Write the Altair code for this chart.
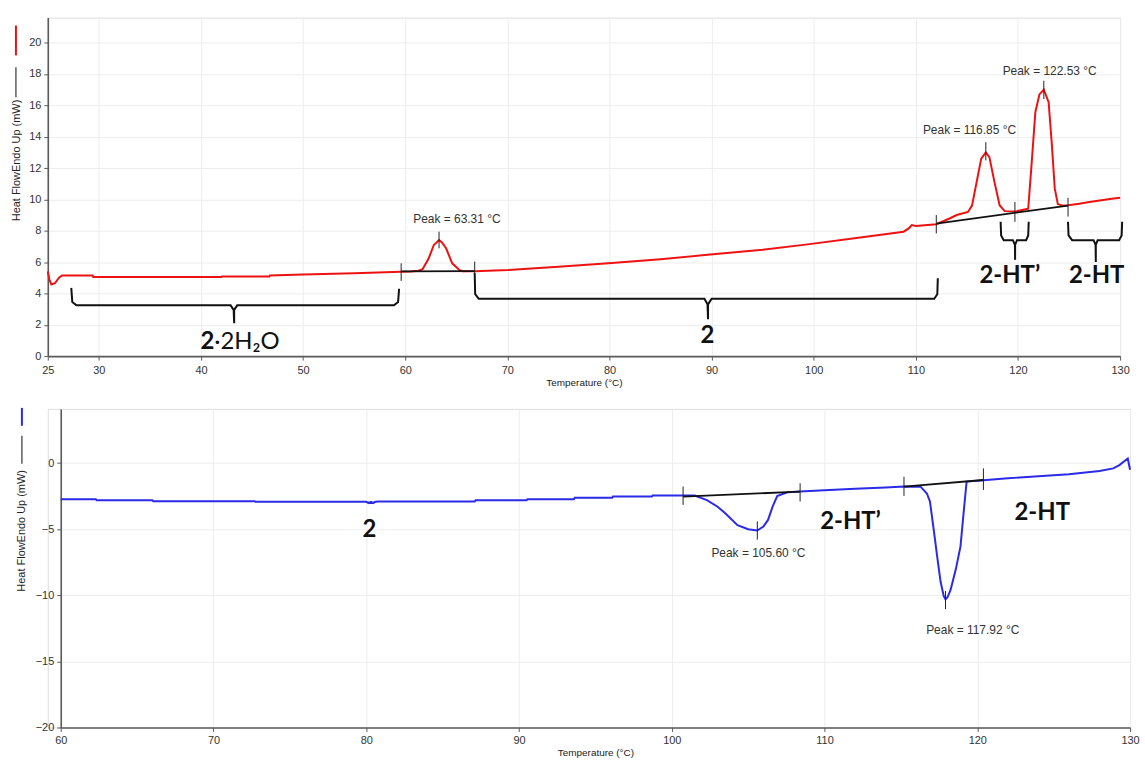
import altair as alt
import pandas as pd

# ---------------- TOP PANEL (heating, red) ----------------
top_T = [25.0, 25.15, 25.35, 25.7, 26.1, 26.4, 29.4, 29.45, 42.0, 42.05, 46.7, 46.75, 50.0, 55.0,
         59.6, 60.5, 61.3, 61.7, 62.3, 62.8, 63.31, 63.6, 64.0, 64.6, 65.3, 65.6, 66.8,
         70.1, 75.0, 79.9, 85.0, 89.6, 95.0, 99.4, 104.0, 108.8, 109.3, 109.6, 110.0, 112.0,
         113.3, 114.0, 115.1, 115.5, 115.95, 116.4, 116.85, 117.2, 117.7, 118.2, 118.7, 119.7,
         121.0, 121.3, 121.7, 122.1, 122.53, 123.0, 123.3, 123.6, 123.9, 124.4, 124.9,
         126.0, 127.0, 128.0, 129.0, 130.0]
top_Y = [5.40, 4.90, 4.57, 4.65, 5.00, 5.14, 5.14, 5.04, 5.04, 5.08, 5.08, 5.15, 5.20, 5.28,
         5.38, 5.40, 5.45, 5.55, 6.24, 7.09, 7.40, 7.25, 6.88, 5.92, 5.50, 5.42, 5.42,
         5.50, 5.70, 5.93, 6.18, 6.46, 6.78, 7.13, 7.52, 7.94, 8.15, 8.36, 8.30, 8.42,
         8.78, 9.00, 9.20, 9.60, 11.10, 12.60, 13.00, 12.70, 11.10, 9.63, 9.25, 9.22,
         9.40, 11.96, 15.56, 16.70, 17.00, 16.20, 13.65, 10.70, 9.70, 9.60, 9.62,
         9.72, 9.83, 9.93, 10.02, 10.10]

top_base_T = [59.6, 66.8, 112.0, 124.9]
top_base_Y = [5.40, 5.42, 8.46, 9.60]
top_base_id = ["a", "a", "b", "b"]

top_tick_T = [59.6, 63.31, 66.8, 112.0, 116.85, 119.7, 122.53, 124.9]
top_tick_lo = [4.80, 6.88, 5.29, 7.83, 12.49, 8.57, 16.40, 8.90]
top_tick_hi = [5.92, 7.94, 6.03, 9.00, 13.65, 9.84, 17.57, 10.10]

top_peak_T = [65.06, 115.25, 123.1]
top_peak_Y = [8.74, 14.4, 18.2]
top_peak_txt = ["Peak = 63.31 °C", "Peak = 116.85 °C", "Peak = 122.53 °C"]

# curly brackets (phase ranges)
br_T = [27.3, 27.4, 27.8, 42.9, 43.2, 43.25, 43.25, 43.55, 58.9, 59.3, 59.4,
        66.8, 66.85, 67.2, 89.3, 89.6, 89.65, 89.65, 90.0, 111.8, 112.1, 112.15,
        118.3, 118.35, 118.6, 119.5, 119.7, 119.72, 119.72, 119.9, 120.8, 121.0, 121.05,
        124.9, 124.95, 125.3, 127.4, 127.6, 127.62, 127.62, 127.8, 129.9, 130.15, 130.2]
br_Y = [4.35, 3.45, 3.24, 3.24, 2.95, 2.10, 2.95, 3.24, 3.24, 3.45, 4.30,
        5.30, 3.95, 3.66, 3.66, 3.30, 2.35, 3.30, 3.66, 3.66, 3.95, 4.97,
        8.57, 7.70, 7.40, 7.40, 7.10, 6.14, 7.10, 7.40, 7.40, 7.70, 8.57,
        8.57, 7.70, 7.40, 7.40, 7.10, 6.00, 7.10, 7.40, 7.40, 7.70, 8.57]
br_id = ["A"] * 11 + ["B"] * 11 + ["C"] * 11 + ["D"] * 11

top_lab_T = [89.6, 119.2, 127.7]
top_lab_Y = [1.27, 5.14, 5.14]
top_lab_txt = ["2", "2-HT’", "2-HT"]

# ---------------- BOTTOM PANEL (cooling, blue) ----------------
bot_T = [60.0, 62.3, 62.35, 66.0, 66.05, 72.7, 72.75, 80.0, 80.15, 80.3, 80.45, 80.6, 80.8,
         87.1, 87.15, 90.5, 90.55, 93.6, 93.65, 96.1, 96.15, 98.7, 98.75, 100.74,
         101.5, 102.3, 103.0, 103.5, 104.3, 105.0, 105.6, 106.0, 106.3, 106.6, 106.9, 107.6, 108.4,
         110.0, 112.0, 114.0, 115.2, 116.3, 116.7, 116.9, 117.2, 117.4, 117.6, 117.8, 117.92,
         118.05, 118.25, 118.6, 118.9, 119.1, 119.3, 120.4, 122.0, 124.0, 126.0, 128.0, 128.9, 129.3,
         129.85, 130.0]
bot_Y = [-2.73, -2.73, -2.81, -2.81, -2.88, -2.88, -2.93, -2.93, -3.02, -2.93, -3.02, -2.93, -2.90,
         -2.90, -2.81, -2.81, -2.73, -2.73, -2.63, -2.63, -2.53, -2.53, -2.45, -2.45,
         -2.45, -2.80, -3.30, -3.80, -4.70, -5.00, -5.10, -4.80, -4.30, -3.30, -2.50, -2.20, -2.15,
         -2.05, -1.95, -1.85, -1.78, -1.80, -2.30, -2.90, -5.50, -7.30, -9.00, -10.05, -10.30,
         -10.15, -9.60, -8.00, -6.30, -3.80, -1.40, -1.30, -1.15, -1.00, -0.85, -0.60, -0.40, -0.15,
         0.35, -0.50]

bot_base_T = [100.74, 108.4, 115.2, 120.4]
bot_base_Y = [-2.53, -2.16, -1.78, -1.28]
bot_base_id = ["a", "a", "b", "b"]

bot_tick_T = [100.74, 105.6, 108.4, 115.2, 117.92, 120.4]
bot_tick_lo = [-3.16, -5.79, -2.91, -2.48, -11.05, -2.03]
bot_tick_hi = [-1.78, -4.41, -1.53, -1.03, -9.67, -0.40]

bot_peak_T = [105.67, 119.7]
bot_peak_Y = [-6.79, -12.63]
bot_peak_txt = ["Peak = 105.60 °C", "Peak = 117.92 °C"]

bot_lab_T = [80.2, 111.7, 124.25]
bot_lab_Y = [-5.04, -4.49, -3.78]
bot_lab_txt = ["2", "2-HT’", "2-HT"]

top_x_ticks = [25, 30, 40, 50, 60, 70, 80, 90, 100, 110, 120, 130]
top_y_ticks = [0, 2, 4, 6, 8, 10, 12, 14, 16, 18, 20]
bot_x_ticks = [60, 70, 80, 90, 100, 110, 120, 130]
bot_y_ticks = [-20, -15, -10, -5, 0]

# ---------------- styling helpers ----------------
FONT = "Liberation Sans"
BOLD = "Lato"
AX = dict(grid=True, gridColor="#ededed", gridWidth=1, domainColor="#5a5a5a", domainWidth=1.6,
          tickColor="#5a5a5a", tickSize=4, labelFont=FONT, labelFontSize=11, labelColor="#333",
          titleFont=FONT, titleFontWeight="normal", titleColor="#222", labelOverlap=False)

RED = "#ee1111"
BLUE = "#2a2ae8"

# top scales / axes
tx = alt.Scale(domain=[25, 130], zero=False, nice=False)
ty = alt.Scale(domain=[0, 21.6], zero=False, nice=False)
x_ax_top = alt.Axis(values=top_x_ticks, labelFlush=False,
                    title="Temperature (°C)", titleFontSize=10,
                    labelPadding=4, titlePadding=3, **AX)
y_ax_top = alt.Axis(values=top_y_ticks, title="Heat FlowEndo Up (mW)", titleFontSize=11,
                    titleAngle=270, titleX=-31, titleY=143, titleAlign="center",
                    titleBaseline="middle", labelPadding=3, **AX)


def TX(f):
    return alt.X(f, scale=tx, axis=x_ax_top, title="Temperature (°C)")


def TY(f):
    return alt.Y(f, scale=ty, axis=y_ax_top, title="Heat FlowEndo Up (mW)")


df_top = pd.DataFrame({"T": top_T, "Y": top_Y})
df_top_base = pd.DataFrame({"T": top_base_T, "Y": top_base_Y, "id": top_base_id})
df_top_tick = pd.DataFrame({"T": top_tick_T, "lo": top_tick_lo, "hi": top_tick_hi})
df_top_peak = pd.DataFrame({"T": top_peak_T, "Y": top_peak_Y, "t": top_peak_txt})
df_br = pd.DataFrame({"T": br_T, "Y": br_Y, "id": br_id, "o": list(range(len(br_T)))})
df_top_lab = pd.DataFrame({"T": top_lab_T, "Y": top_lab_Y, "t": top_lab_txt})
df_h2o_b = pd.DataFrame({"T": [41.3], "Y": [0.44], "t": ["2"]})
df_h2o_r = pd.DataFrame({"T": [41.3], "Y": [0.44], "t": ["·2H₂O"]})

curve_top = alt.Chart(df_top).mark_line(color=RED, strokeWidth=2).encode(
    x=TX("T:Q"), y=TY("Y:Q"))
base_top = alt.Chart(df_top_base).mark_line(color="#111", strokeWidth=1.8).encode(
    x=TX("T:Q"), y=TY("Y:Q"), detail="id:N")
tick_top = alt.Chart(df_top_tick).mark_rule(color="#222", strokeWidth=1).encode(
    x=TX("T:Q"), y=TY("lo:Q"), y2="hi:Q")
peak_top = alt.Chart(df_top_peak).mark_text(font=FONT, fontSize=12, color="#333").encode(
    x=TX("T:Q"), y=TY("Y:Q"), text="t:N")
br_top = alt.Chart(df_br).mark_line(color="#111", strokeWidth=2).encode(
    x=TX("T:Q"), y=TY("Y:Q"), detail="id:N", order="o:Q")
lab_top = alt.Chart(df_top_lab).mark_text(font=BOLD, fontWeight="bold", fontSize=24,
                                          color="#111").encode(
    x=TX("T:Q"), y=TY("Y:Q"), text="t:N")
h2o_b = alt.Chart(df_h2o_b).mark_text(font=BOLD, fontWeight="bold", fontSize=24,
                                      color="#111", align="right",
                                      baseline="alphabetic").encode(
    x=TX("T:Q"), y=TY("Y:Q"), text="t:N")
h2o_r = alt.Chart(df_h2o_r).mark_text(font=BOLD, fontSize=24, color="#111",
                                      align="left", baseline="alphabetic").encode(
    x=TX("T:Q"), y=TY("Y:Q"), text="t:N")

one = pd.DataFrame({"a": [0]})
leg_top_r = alt.Chart(one).mark_rule(color=RED, strokeWidth=2).encode(
    x=alt.value(-32), y=alt.value(8), y2=alt.value(38))
leg_top_k = alt.Chart(one).mark_rule(color="#444", strokeWidth=1.3).encode(
    x=alt.value(-32), y=alt.value(50), y2=alt.value(80))

top = alt.layer(curve_top, base_top, tick_top, peak_top, br_top, lab_top, h2o_b, h2o_r,
                leg_top_r, leg_top_k).properties(width=1077, height=340)

# bottom scales / axes
bx = alt.Scale(domain=[60, 130], zero=False, nice=False, range=[13, 1087])
by = alt.Scale(domain=[-20, 4.1], zero=False, nice=False)
x_ax_bot = alt.Axis(values=bot_x_ticks, labelFlush=False,
                    title="Temperature (°C)", titleFontSize=10,
                    labelPadding=3, titlePadding=2, **AX)
y_ax_bot = alt.Axis(values=bot_y_ticks, title="Heat FlowEndo Up (mW)", titleFontSize=11,
                    titleAngle=270, titleX=-39, titleY=122, titleAlign="center",
                    titleBaseline="middle", labelPadding=3, offset=-13, **AX)


def BX(f):
    return alt.X(f, scale=bx, axis=x_ax_bot, title="Temperature (°C)")


def BY(f):
    return alt.Y(f, scale=by, axis=y_ax_bot, title="Heat FlowEndo Up (mW)")


df_bot = pd.DataFrame({"T": bot_T, "Y": bot_Y})
df_bot_base = pd.DataFrame({"T": bot_base_T, "Y": bot_base_Y, "id": bot_base_id})
df_bot_tick = pd.DataFrame({"T": bot_tick_T, "lo": bot_tick_lo, "hi": bot_tick_hi})
df_bot_peak = pd.DataFrame({"T": bot_peak_T, "Y": bot_peak_Y, "t": bot_peak_txt})
df_bot_lab = pd.DataFrame({"T": bot_lab_T, "Y": bot_lab_Y, "t": bot_lab_txt})

curve_bot = alt.Chart(df_bot).mark_line(color=BLUE, strokeWidth=2).encode(
    x=BX("T:Q"), y=BY("Y:Q"))
base_bot = alt.Chart(df_bot_base).mark_line(color="#111", strokeWidth=1.8).encode(
    x=BX("T:Q"), y=BY("Y:Q"), detail="id:N")
tick_bot = alt.Chart(df_bot_tick).mark_rule(color="#222", strokeWidth=1).encode(
    x=BX("T:Q"), y=BY("lo:Q"), y2="hi:Q")
peak_bot = alt.Chart(df_bot_peak).mark_text(font=FONT, fontSize=12, color="#333").encode(
    x=BX("T:Q"), y=BY("Y:Q"), text="t:N")
lab_bot = alt.Chart(df_bot_lab).mark_text(font=BOLD, fontWeight="bold", fontSize=24,
                                          color="#111").encode(
    x=BX("T:Q"), y=BY("Y:Q"), text="t:N")
leg_bot_b = alt.Chart(one).mark_rule(color=BLUE, strokeWidth=2).encode(
    x=alt.value(-26), y=alt.value(-1), y2=alt.value(17))
leg_bot_k = alt.Chart(one).mark_rule(color="#444", strokeWidth=1.3).encode(
    x=alt.value(-26), y=alt.value(27), y2=alt.value(55))

bottom = alt.layer(curve_bot, base_bot, tick_bot, peak_bot, lab_bot, leg_bot_b,
                   leg_bot_k).properties(width=1087, height=320)

chart = alt.vconcat(top, bottom, spacing=53, bounds="flush").properties(
    padding={"left": 10, "top": 15, "right": 5, "bottom": 2}
).configure_view(stroke="transparent", strokeWidth=0).configure(background="white")

chart.save("out.html", embed_options={"renderer": "svg", "actions": False})
